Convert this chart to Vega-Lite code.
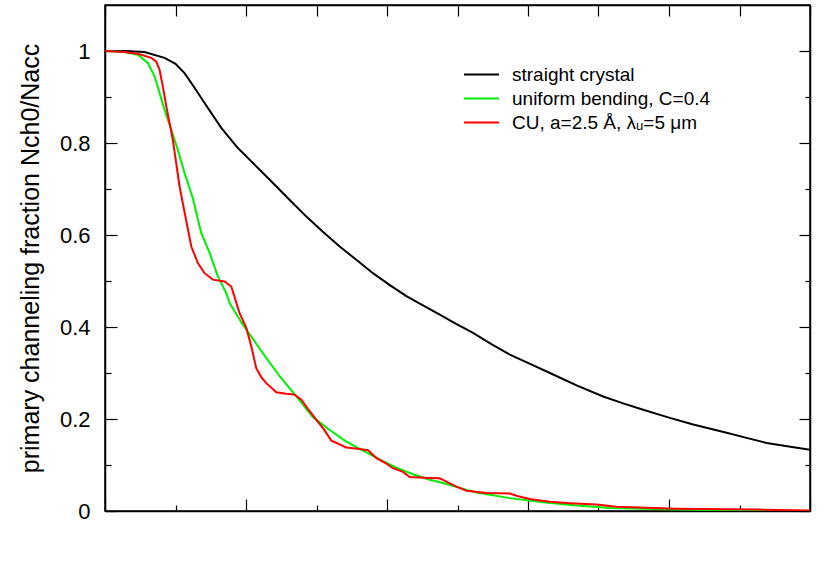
{
  "$schema": "https://vega.github.io/schema/vega-lite/v6.json",
  "autosize": "none",
  "width": 705,
  "height": 506,
  "padding": {"left": 105, "top": 5, "right": 20, "bottom": 77},
  "background": "white",
  "config": {
    "font": "Liberation Sans",
    "view": {"stroke": "black", "strokeWidth": 1.5},
    "axis": {"domainColor": "black", "domainWidth": 1.5, "tickColor": "black", "tickWidth": 1.2, "grid": false, "labelColor": "black", "titleColor": "black"}
  },
  "data": {
    "values": [
      {"x": 0, "y": 1.0, "s": "straight crystal"},
      {"x": 0.3, "y": 1.0, "s": "straight crystal"},
      {"x": 0.56, "y": 0.998, "s": "straight crystal"},
      {"x": 0.845, "y": 0.985, "s": "straight crystal"},
      {"x": 1.0, "y": 0.972, "s": "straight crystal"},
      {"x": 1.128, "y": 0.952, "s": "straight crystal"},
      {"x": 1.27, "y": 0.92, "s": "straight crystal"},
      {"x": 1.412, "y": 0.887, "s": "straight crystal"},
      {"x": 1.649, "y": 0.833, "s": "straight crystal"},
      {"x": 1.885, "y": 0.789, "s": "straight crystal"},
      {"x": 2.122, "y": 0.753, "s": "straight crystal"},
      {"x": 2.382, "y": 0.713, "s": "straight crystal"},
      {"x": 2.62, "y": 0.676, "s": "straight crystal"},
      {"x": 2.856, "y": 0.64, "s": "straight crystal"},
      {"x": 3.09, "y": 0.607, "s": "straight crystal"},
      {"x": 3.329, "y": 0.575, "s": "straight crystal"},
      {"x": 3.565, "y": 0.546, "s": "straight crystal"},
      {"x": 3.801, "y": 0.517, "s": "straight crystal"},
      {"x": 4.04, "y": 0.491, "s": "straight crystal"},
      {"x": 4.275, "y": 0.467, "s": "straight crystal"},
      {"x": 4.51, "y": 0.447, "s": "straight crystal"},
      {"x": 4.748, "y": 0.427, "s": "straight crystal"},
      {"x": 4.98, "y": 0.407, "s": "straight crystal"},
      {"x": 5.221, "y": 0.387, "s": "straight crystal"},
      {"x": 5.48, "y": 0.363, "s": "straight crystal"},
      {"x": 5.742, "y": 0.34, "s": "straight crystal"},
      {"x": 6.03, "y": 0.32, "s": "straight crystal"},
      {"x": 6.31, "y": 0.3, "s": "straight crystal"},
      {"x": 6.69, "y": 0.273, "s": "straight crystal"},
      {"x": 7.066, "y": 0.249, "s": "straight crystal"},
      {"x": 7.35, "y": 0.234, "s": "straight crystal"},
      {"x": 7.634, "y": 0.22, "s": "straight crystal"},
      {"x": 8.0, "y": 0.203, "s": "straight crystal"},
      {"x": 8.343, "y": 0.188, "s": "straight crystal"},
      {"x": 8.818, "y": 0.17, "s": "straight crystal"},
      {"x": 9.1, "y": 0.159, "s": "straight crystal"},
      {"x": 9.385, "y": 0.148, "s": "straight crystal"},
      {"x": 9.7, "y": 0.14, "s": "straight crystal"},
      {"x": 10.0, "y": 0.133, "s": "straight crystal"},

      {"x": 0, "y": 1.0, "s": "uniform bending, C=0.4"},
      {"x": 0.277, "y": 0.998, "s": "uniform bending, C=0.4"},
      {"x": 0.466, "y": 0.992, "s": "uniform bending, C=0.4"},
      {"x": 0.608, "y": 0.974, "s": "uniform bending, C=0.4"},
      {"x": 0.703, "y": 0.945, "s": "uniform bending, C=0.4"},
      {"x": 0.774, "y": 0.909, "s": "uniform bending, C=0.4"},
      {"x": 0.845, "y": 0.872, "s": "uniform bending, C=0.4"},
      {"x": 0.94, "y": 0.829, "s": "uniform bending, C=0.4"},
      {"x": 0.986, "y": 0.807, "s": "uniform bending, C=0.4"},
      {"x": 1.033, "y": 0.785, "s": "uniform bending, C=0.4"},
      {"x": 1.128, "y": 0.735, "s": "uniform bending, C=0.4"},
      {"x": 1.246, "y": 0.68, "s": "uniform bending, C=0.4"},
      {"x": 1.366, "y": 0.604, "s": "uniform bending, C=0.4"},
      {"x": 1.484, "y": 0.561, "s": "uniform bending, C=0.4"},
      {"x": 1.601, "y": 0.51, "s": "uniform bending, C=0.4"},
      {"x": 1.719, "y": 0.474, "s": "uniform bending, C=0.4"},
      {"x": 1.767, "y": 0.452, "s": "uniform bending, C=0.4"},
      {"x": 1.956, "y": 0.405, "s": "uniform bending, C=0.4"},
      {"x": 2.24, "y": 0.343, "s": "uniform bending, C=0.4"},
      {"x": 2.477, "y": 0.293, "s": "uniform bending, C=0.4"},
      {"x": 2.714, "y": 0.249, "s": "uniform bending, C=0.4"},
      {"x": 2.95, "y": 0.204, "s": "uniform bending, C=0.4"},
      {"x": 3.187, "y": 0.176, "s": "uniform bending, C=0.4"},
      {"x": 3.424, "y": 0.151, "s": "uniform bending, C=0.4"},
      {"x": 3.659, "y": 0.131, "s": "uniform bending, C=0.4"},
      {"x": 3.896, "y": 0.112, "s": "uniform bending, C=0.4"},
      {"x": 4.133, "y": 0.094, "s": "uniform bending, C=0.4"},
      {"x": 4.369, "y": 0.08, "s": "uniform bending, C=0.4"},
      {"x": 4.606, "y": 0.068, "s": "uniform bending, C=0.4"},
      {"x": 4.795, "y": 0.061, "s": "uniform bending, C=0.4"},
      {"x": 5.269, "y": 0.04, "s": "uniform bending, C=0.4"},
      {"x": 5.742, "y": 0.028, "s": "uniform bending, C=0.4"},
      {"x": 6.214, "y": 0.019, "s": "uniform bending, C=0.4"},
      {"x": 6.688, "y": 0.012, "s": "uniform bending, C=0.4"},
      {"x": 7.161, "y": 0.0065, "s": "uniform bending, C=0.4"},
      {"x": 8.108, "y": 0.003, "s": "uniform bending, C=0.4"},
      {"x": 9.077, "y": 0.001, "s": "uniform bending, C=0.4"},
      {"x": 10.0, "y": 0.0, "s": "uniform bending, C=0.4"},

      {"x": 0, "y": 1.0, "s": "CU, a=2.5 Å, λᵤ=5 μm"},
      {"x": 0.277, "y": 0.998, "s": "CU, a=2.5 Å, λᵤ=5 μm"},
      {"x": 0.466, "y": 0.994, "s": "CU, a=2.5 Å, λᵤ=5 μm"},
      {"x": 0.656, "y": 0.985, "s": "CU, a=2.5 Å, λᵤ=5 μm"},
      {"x": 0.727, "y": 0.977, "s": "CU, a=2.5 Å, λᵤ=5 μm"},
      {"x": 0.774, "y": 0.959, "s": "CU, a=2.5 Å, λᵤ=5 μm"},
      {"x": 0.82, "y": 0.923, "s": "CU, a=2.5 Å, λᵤ=5 μm"},
      {"x": 0.869, "y": 0.88, "s": "CU, a=2.5 Å, λᵤ=5 μm"},
      {"x": 0.916, "y": 0.843, "s": "CU, a=2.5 Å, λᵤ=5 μm"},
      {"x": 0.962, "y": 0.807, "s": "CU, a=2.5 Å, λᵤ=5 μm"},
      {"x": 1.011, "y": 0.755, "s": "CU, a=2.5 Å, λᵤ=5 μm"},
      {"x": 1.057, "y": 0.706, "s": "CU, a=2.5 Å, λᵤ=5 μm"},
      {"x": 1.128, "y": 0.65, "s": "CU, a=2.5 Å, λᵤ=5 μm"},
      {"x": 1.224, "y": 0.575, "s": "CU, a=2.5 Å, λᵤ=5 μm"},
      {"x": 1.317, "y": 0.539, "s": "CU, a=2.5 Å, λᵤ=5 μm"},
      {"x": 1.412, "y": 0.517, "s": "CU, a=2.5 Å, λᵤ=5 μm"},
      {"x": 1.53, "y": 0.503, "s": "CU, a=2.5 Å, λᵤ=5 μm"},
      {"x": 1.696, "y": 0.499, "s": "CU, a=2.5 Å, λᵤ=5 μm"},
      {"x": 1.791, "y": 0.488, "s": "CU, a=2.5 Å, λᵤ=5 μm"},
      {"x": 1.838, "y": 0.465, "s": "CU, a=2.5 Å, λᵤ=5 μm"},
      {"x": 1.909, "y": 0.43, "s": "CU, a=2.5 Å, λᵤ=5 μm"},
      {"x": 2.004, "y": 0.398, "s": "CU, a=2.5 Å, λᵤ=5 μm"},
      {"x": 2.075, "y": 0.358, "s": "CU, a=2.5 Å, λᵤ=5 μm"},
      {"x": 2.146, "y": 0.31, "s": "CU, a=2.5 Å, λᵤ=5 μm"},
      {"x": 2.221, "y": 0.29, "s": "CU, a=2.5 Å, λᵤ=5 μm"},
      {"x": 2.288, "y": 0.278, "s": "CU, a=2.5 Å, λᵤ=5 μm"},
      {"x": 2.43, "y": 0.258, "s": "CU, a=2.5 Å, λᵤ=5 μm"},
      {"x": 2.572, "y": 0.255, "s": "CU, a=2.5 Å, λᵤ=5 μm"},
      {"x": 2.69, "y": 0.253, "s": "CU, a=2.5 Å, λᵤ=5 μm"},
      {"x": 2.785, "y": 0.242, "s": "CU, a=2.5 Å, λᵤ=5 μm"},
      {"x": 2.879, "y": 0.222, "s": "CU, a=2.5 Å, λᵤ=5 μm"},
      {"x": 2.998, "y": 0.198, "s": "CU, a=2.5 Å, λᵤ=5 μm"},
      {"x": 3.092, "y": 0.18, "s": "CU, a=2.5 Å, λᵤ=5 μm"},
      {"x": 3.211, "y": 0.153, "s": "CU, a=2.5 Å, λᵤ=5 μm"},
      {"x": 3.424, "y": 0.138, "s": "CU, a=2.5 Å, λᵤ=5 μm"},
      {"x": 3.612, "y": 0.135, "s": "CU, a=2.5 Å, λᵤ=5 μm"},
      {"x": 3.73, "y": 0.132, "s": "CU, a=2.5 Å, λᵤ=5 μm"},
      {"x": 3.85, "y": 0.115, "s": "CU, a=2.5 Å, λᵤ=5 μm"},
      {"x": 3.991, "y": 0.103, "s": "CU, a=2.5 Å, λᵤ=5 μm"},
      {"x": 4.085, "y": 0.093, "s": "CU, a=2.5 Å, λᵤ=5 μm"},
      {"x": 4.227, "y": 0.085, "s": "CU, a=2.5 Å, λᵤ=5 μm"},
      {"x": 4.322, "y": 0.074, "s": "CU, a=2.5 Å, λᵤ=5 μm"},
      {"x": 4.606, "y": 0.072, "s": "CU, a=2.5 Å, λᵤ=5 μm"},
      {"x": 4.748, "y": 0.071, "s": "CU, a=2.5 Å, λᵤ=5 μm"},
      {"x": 4.843, "y": 0.064, "s": "CU, a=2.5 Å, λᵤ=5 μm"},
      {"x": 4.985, "y": 0.053, "s": "CU, a=2.5 Å, λᵤ=5 μm"},
      {"x": 5.127, "y": 0.044, "s": "CU, a=2.5 Å, λᵤ=5 μm"},
      {"x": 5.411, "y": 0.039, "s": "CU, a=2.5 Å, λᵤ=5 μm"},
      {"x": 5.742, "y": 0.038, "s": "CU, a=2.5 Å, λᵤ=5 μm"},
      {"x": 5.86, "y": 0.032, "s": "CU, a=2.5 Å, λᵤ=5 μm"},
      {"x": 6.026, "y": 0.026, "s": "CU, a=2.5 Å, λᵤ=5 μm"},
      {"x": 6.31, "y": 0.02, "s": "CU, a=2.5 Å, λᵤ=5 μm"},
      {"x": 6.593, "y": 0.017, "s": "CU, a=2.5 Å, λᵤ=5 μm"},
      {"x": 6.972, "y": 0.014, "s": "CU, a=2.5 Å, λᵤ=5 μm"},
      {"x": 7.256, "y": 0.009, "s": "CU, a=2.5 Å, λᵤ=5 μm"},
      {"x": 8.108, "y": 0.005, "s": "CU, a=2.5 Å, λᵤ=5 μm"},
      {"x": 8.864, "y": 0.004, "s": "CU, a=2.5 Å, λᵤ=5 μm"},
      {"x": 9.29, "y": 0.003, "s": "CU, a=2.5 Å, λᵤ=5 μm"},
      {"x": 10.0, "y": 0.001, "s": "CU, a=2.5 Å, λᵤ=5 μm"}
    ]
  },
  "layer": [
    {
      "mark": {"type": "line", "strokeWidth": 2, "clip": true},
      "encoding": {
        "x": {
          "field": "x", "type": "quantitative",
          "scale": {"domain": [0, 10], "nice": false, "zero": false},
          "axis": {
            "orient": "bottom", "title": null, "labels": false,
            "values": [0, 1, 2, 3, 4, 5, 6, 7, 8, 9, 10],
            "tickSize": {"condition": {"test": "round(datum.value) % 2 == 0", "value": -12}, "value": -6}
          }
        },
        "y": {
          "field": "y", "type": "quantitative",
          "scale": {"domain": [0, 1.1], "nice": false},
          "axis": {
            "orient": "left",
            "title": "primary channeling fraction Nch0/Nacc",
            "titleFontSize": 25, "titleFontWeight": "normal", "titlePadding": 16,
            "values": [0, 0.1, 0.2, 0.3, 0.4, 0.5, 0.6, 0.7, 0.8, 0.9, 1],
            "labelExpr": "round(datum.value * 10) % 2 == 0 ? format(datum.value, '.1~f') : ''",
            "labelFontSize": 22, "labelPadding": 27,
            "tickSize": {"condition": {"test": "round(datum.value * 10) % 2 == 0", "value": -12}, "value": -6}
          }
        },
        "color": {
          "field": "s", "type": "nominal",
          "scale": {
            "domain": ["straight crystal", "uniform bending, C=0.4", "CU, a=2.5 Å, λᵤ=5 μm"],
            "range": ["#000000", "#00ee00", "#ff0000"]
          },
          "legend": {
            "title": null, "orient": "none", "legendX": 363, "legendY": 56,
            "symbolType": "M-1.4,0L1.4,0", "symbolSize": 625, "symbolStrokeWidth": 2,
            "labelFontSize": 19, "labelOffset": 17, "rowPadding": 0, "padding": 0,
            "labelColor": "black", "labelLimit": 400
          }
        }
      }
    },
    {
      "mark": {"type": "line", "opacity": 0},
      "encoding": {
        "x": {
          "field": "x", "type": "quantitative",
          "scale": {"domain": [0, 10], "nice": false, "zero": false},
          "axis": {
            "orient": "top", "title": null, "labels": false,
            "values": [0, 1, 2, 3, 4, 5, 6, 7, 8, 9, 10],
            "tickSize": -11
          }
        },
        "y": {
          "field": "y", "type": "quantitative",
          "scale": {"domain": [0, 1.1], "nice": false},
          "axis": {
            "orient": "right", "title": null, "labels": false,
            "values": [0, 0.1, 0.2, 0.3, 0.4, 0.5, 0.6, 0.7, 0.8, 0.9, 1],
            "tickSize": {"condition": {"test": "round(datum.value * 10) % 2 == 0", "value": -11}, "value": -5}
          }
        },
        "detail": {"field": "s", "type": "nominal"}
      }
    }
  ],
  "resolve": {"axis": {"x": "independent", "y": "independent"}}
}
